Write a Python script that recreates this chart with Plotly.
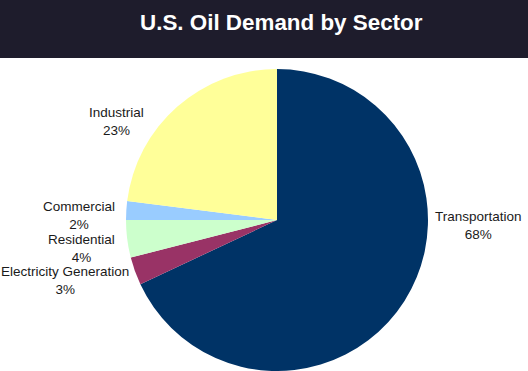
import plotly.graph_objects as go

# ---- data ----
categories = ["Transportation", "Electricity Generation", "Residential", "Commercial", "Industrial"]
shares = [68, 3, 4, 2, 23]
colors = ["#003366", "#993366", "#CCFFCC", "#99CCFF", "#FFFF99"]
title_text = "U.S. Oil Demand by Sector"

# ---- layout constants (pixels) ----
W, H = 528, 371
BAR_H = 58
label_px = {  # label centre positions in pixels (x, y from top)
    "Transportation": (478, 226),
    "Electricity Generation": (65, 280),
    "Residential": (81, 248),
    "Commercial": (79, 215),
    "Industrial": (116, 122),
}
cx, cy, r = 277, 220, 151

fig = go.Figure()
fig.add_trace(go.Pie(
    labels=categories,
    values=shares,
    sort=False,
    direction="clockwise",
    rotation=0,
    marker=dict(colors=colors, line=dict(width=0)),
    textinfo="none",
    hoverinfo="label+percent",
    showlegend=False,
    domain=dict(x=[(cx - r) / W, (cx + r) / W], y=[(H - cy - r) / H, (H - cy + r) / H]),
))

annotations = [
    dict(text=f"<b>{title_text}</b>", x=281 / W, y=1 - 22 / H, xref="paper", yref="paper",
         showarrow=False, xanchor="center", yanchor="middle",
         font=dict(family="Arial, Liberation Sans, sans-serif", size=22.4, color="#FFFFFF"))
]
for cat, val in zip(categories, shares):
    px, py = label_px[cat]
    annotations.append(dict(
        text=f"{cat}<br>{val}%", x=px / W, y=1 - py / H, xref="paper", yref="paper",
        showarrow=False, xanchor="center", yanchor="middle", align="center",
        font=dict(family="Arial, Liberation Sans, sans-serif", size=13.5, color="#1a1a1a")))

fig.update_layout(
    width=W, height=H,
    margin=dict(l=0, r=0, t=0, b=0),
    paper_bgcolor="#FFFFFF",
    plot_bgcolor="#FFFFFF",
    shapes=[dict(type="rect", xref="paper", yref="paper", x0=0, x1=1, y0=1 - BAR_H / H, y1=1,
                 fillcolor="#1E1C2C", line=dict(width=0), layer="below")],
    annotations=annotations,
)

fig.write_html("out.html", config={"displayModeBar": False},
               post_script="document.body.style.margin='0';document.body.style.overflow='hidden';")
